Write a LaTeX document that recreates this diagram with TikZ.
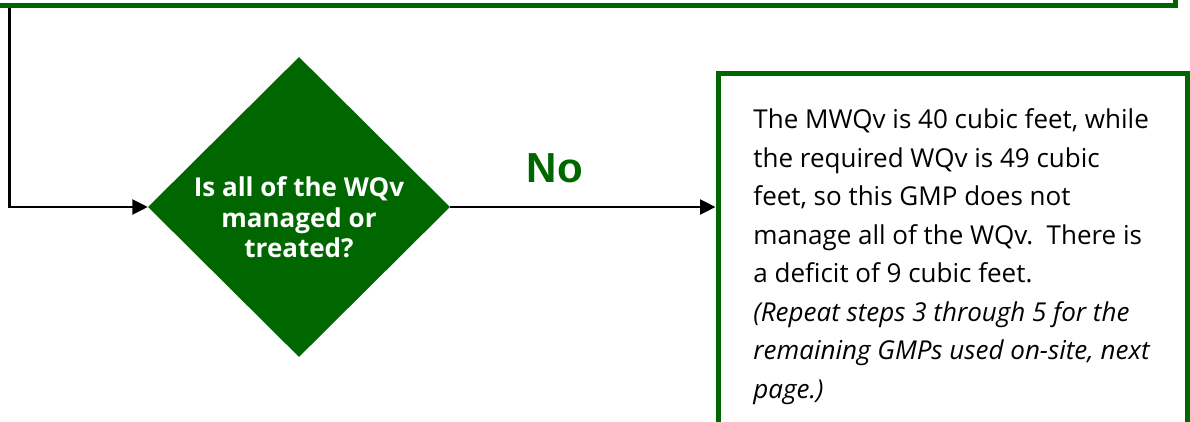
\documentclass[tikz,border=0pt]{standalone}
\usepackage{fontspec}
\setmainfont{Open Sans}
\newfontfamily\nofont{Liberation Sans}
\usetikzlibrary{arrows.meta, shapes.geometric, positioning, calc}
\definecolor{gmpgreen}{RGB}{0,102,0}
\tikzset{
    greenbox/.style={draw=gmpgreen, line width=5pt, inner sep=0pt},
    question/.style={diamond, fill=gmpgreen, inner sep=0pt, minimum width=302pt, minimum height=300pt},
    flowarrow/.style={-{Triangle[length=15.5pt,width=15pt]}, line width=2.5pt}
}

\begin{document}
\begin{tikzpicture}[x=1pt,y=-1pt]
    \useasboundingbox (0,0) rectangle (1190,422);
    \node[greenbox, minimum width=1195pt, minimum height=105.5pt] (prev-step) at (577.5,-47.25) {};
\node[question] (wqv-check) at (299,207) {};
\node[align=center, inner sep=0pt, text=white, font=\bfseries\fontsize{26}{30.6}\selectfont] (wqv-check-text) at ([yshift=-10.5pt]wqv-check.center) {Is all of the WQv\\ managed or\\ treated?};
\node[greenbox, minimum width=469.5pt, minimum height=400pt] (deficit-box) at (952.75,274) {};
\node[align=left, inner sep=0pt, anchor=north west, font=\fontsize{26}{38.5}\selectfont] (deficit-text) at ([xshift=37.75pt,yshift=-37.25pt]deficit-box.north west) {The MWQv is 40 cubic feet, while\\ the required WQv is 49 cubic\\ feet, so this GMP does not\\ manage all of the WQv.\ \ There is\\ a deficit of 9 cubic feet.\\ \textit{(Repeat steps 3 through 5 for the}\\ \textit{remaining GMPs used on-site, next}\\ \textit{page.)}};
\coordinate (left-bend) at (9.7,207);
\draw[flowarrow] (prev-step.south -| left-bend) |- (wqv-check.west);
\draw[flowarrow] (wqv-check.east) -- (deficit-box.west |- wqv-check.east) node[pos=0.394, anchor=base, yshift=24.6pt, text=gmpgreen, font=\nofont\bfseries\fontsize{42}{42}\selectfont] (no-label) {No};
\end{tikzpicture}
\end{document}
